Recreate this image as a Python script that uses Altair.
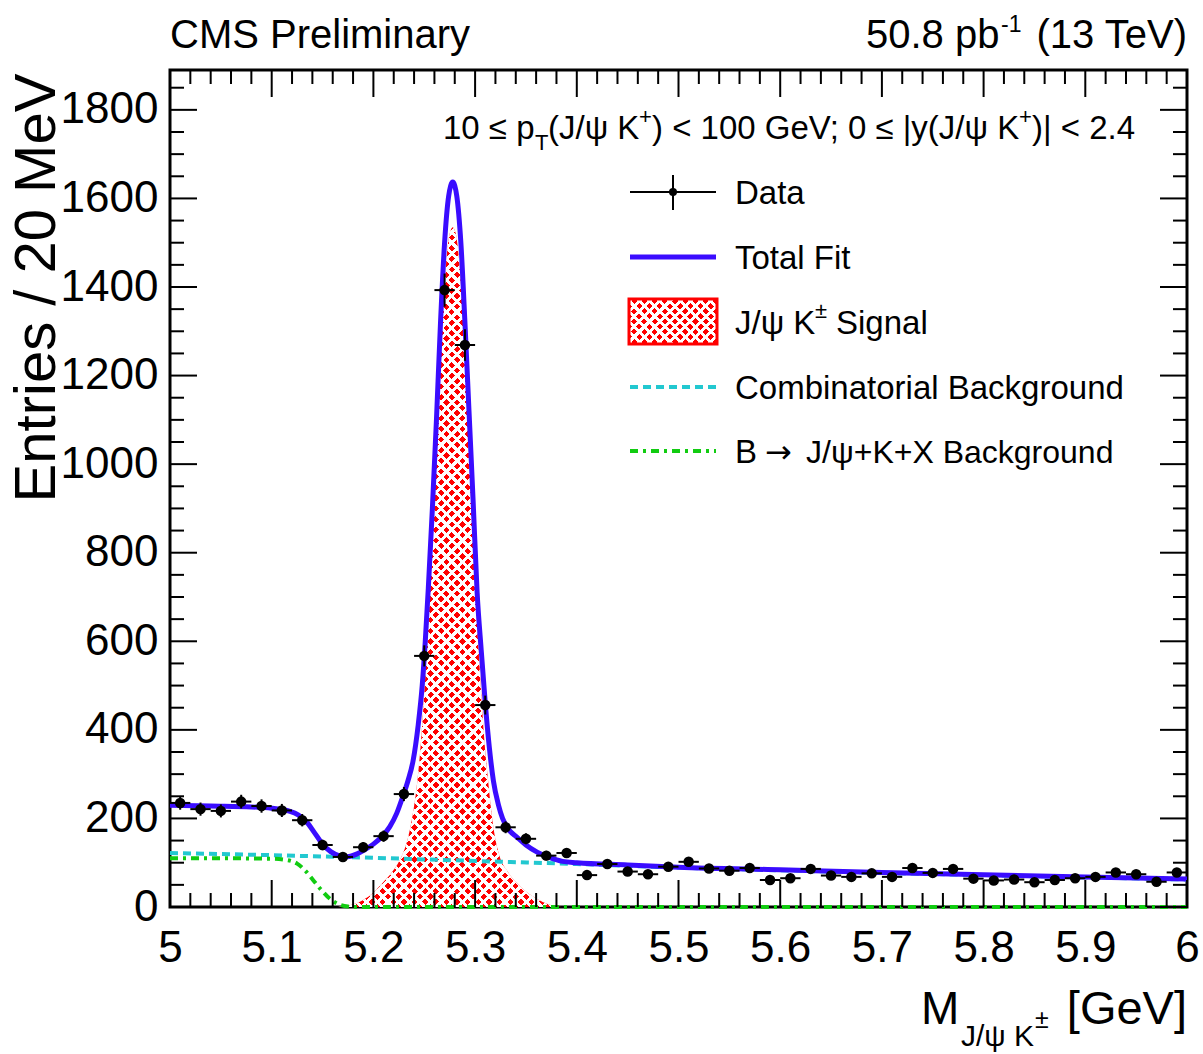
import altair as alt
import numpy as np
import pandas as pd

# ---------------- data ----------------
bin_centers = [round(5.01 + 0.02 * i, 2) for i in range(50)]
counts = [235, 221, 217, 238, 228, 218, 196, 140, 113, 135,
          160, 255, 567, 1393, 1269, 456, 180, 154, 116, 122,
          72, 97, 80, 74, 91, 102, 87, 82, 88, 61,
          65, 86, 71, 68, 76, 68, 88, 77, 86, 64,
          60, 62, 56, 61, 65, 68, 78, 74, 57, 78]

fit_mass = [5.000, 5.040, 5.080, 5.100, 5.110, 5.118, 5.126, 5.134, 5.142, 5.150,
            5.158, 5.166, 5.172, 5.184, 5.192, 5.200, 5.208, 5.216, 5.223, 5.229,
            5.234, 5.239, 5.244, 5.248, 5.251, 5.254, 5.258, 5.262, 5.266, 5.270,
            5.274, 5.278, 5.282, 5.286, 5.290, 5.294, 5.298, 5.302, 5.306, 5.310,
            5.314, 5.318, 5.323, 5.327, 5.333, 5.341, 5.350, 5.361, 5.373, 5.386,
            5.400, 5.450, 5.500, 5.600, 5.700, 5.800, 5.900, 6.000]
fit_total = [230, 228, 226, 223, 220, 216, 208, 193, 168, 142,
             125, 116, 113, 120, 130, 142, 158, 181, 212, 250,
             285, 330, 410, 500, 600, 720, 900, 1100, 1320, 1500,
             1605, 1637, 1605, 1500, 1320, 1120, 920, 710, 580, 460,
             360, 285, 230, 200, 175, 158, 140, 124, 112, 103,
             100, 95, 90, 84, 78, 73, 68, 63]

sig_mass = [5.165, 5.177, 5.190, 5.200, 5.209, 5.218, 5.226, 5.232, 5.238, 5.243,
            5.247, 5.251, 5.255, 5.259, 5.263, 5.267, 5.271, 5.275, 5.278, 5.281,
            5.285, 5.289, 5.293, 5.297, 5.301, 5.305, 5.309, 5.313, 5.318, 5.324,
            5.332, 5.341, 5.350, 5.361, 5.372, 5.385]
sig_vals = [0, 4, 16, 32, 54, 78, 106, 140, 200, 280,
            380, 520, 680, 870, 1080, 1290, 1440, 1520, 1535, 1520,
            1440, 1290, 1080, 870, 680, 520, 380, 280, 180, 115,
            80, 54, 35, 18, 6, 0]

comb_mass = [5.0, 5.1, 5.2, 5.3, 5.4, 5.5, 5.6, 5.7, 5.8, 5.9, 6.0]
comb_vals = [122, 117, 111, 104, 97, 89, 83, 77, 72, 67, 62]

bkx_mass = [5.0, 5.05, 5.10, 5.115, 5.125, 5.133, 5.141, 5.149, 5.157, 5.165, 5.175, 5.185, 6.0]
bkx_vals = [110, 110, 109, 106, 98, 82, 60, 38, 19, 7, 1, 0, 0]

x_major = [round(5 + 0.1 * i, 1) for i in range(11)]
x_minor = [round(5 + 0.02 * i, 2) for i in range(51) if i % 5]
y_major = list(range(0, 1801, 200))
y_minor = [v for v in range(0, 1851, 50) if v % 200]

# ---------------- layout / style ----------------
W, H = 1017, 837
LEFT, TOP = 170, 70
YMAX = 1890
REG = "Liberation Sans, Arial, Helvetica, sans-serif"
SYM = "DejaVu Sans, Liberation Sans, sans-serif"
BLUE = "#3a0cff"
CYAN = "#22c8d0"
GREEN = "#11cc11"
RED = "#ff0000"

xs = alt.Scale(domain=[5, 6], nice=False, zero=False)
ys = alt.Scale(domain=[0, YMAX], nice=False, zero=True)
xaxis = alt.Axis(values=x_major, format="~g", title=None, ticks=False, tickSize=0,
                 domain=False, grid=False, labelFont=REG, labelFontSize=44,
                 labelPadding=19, labelColor="black", labelOverlap=False, labelFlush=False)
yaxis = alt.Axis(values=y_major, format="d", title=None, ticks=False, tickSize=0,
                 domain=False, grid=False, labelFont=REG, labelFontSize=44,
                 labelPadding=12, labelColor="black", labelOverlap=False, labelFlush=False)


def X(f):
    return alt.X(f, type="quantitative", scale=xs, axis=xaxis)


def Y(f):
    return alt.Y(f, type="quantitative", scale=ys, axis=yaxis)


def stripes(w, h, period, frac, flip):
    k = (w + h) / (w * w + h * h)
    dx, dy = w * k, h * k
    n = max(1, int(round((w + h) / (period * np.sqrt(2)))))
    clear = "rgba(255,255,255,0)"
    stops = []
    for i in range(n):
        a = i / n
        b = (i + frac) / n
        stops += [{"offset": a, "color": clear}, {"offset": a, "color": "white"},
                  {"offset": b, "color": "white"}, {"offset": b, "color": clear}]
    stops.append({"offset": 1.0, "color": clear})
    if flip:
        return {"gradient": "linear", "x1": 0, "y1": 1, "x2": dx, "y2": 1 - dy, "stops": stops}
    return {"gradient": "linear", "x1": 0, "y1": 0, "x2": dx, "y2": dy, "stops": stops}


data_df = pd.DataFrame({"m": bin_centers, "n": counts})
data_df["err"] = np.sqrt(data_df["n"])
data_df["lo"] = data_df["m"] - 0.01
data_df["hi"] = data_df["m"] + 0.01
data_df["vlo"] = data_df["n"] - data_df["err"]
data_df["vhi"] = data_df["n"] + data_df["err"]

fit_df = pd.DataFrame({"m": fit_mass, "v": fit_total})
sig_df = pd.DataFrame({"m": sig_mass, "v": sig_vals})
comb_df = pd.DataFrame({"m": comb_mass, "v": comb_vals})
bkx_df = pd.DataFrame({"m": bkx_mass, "v": bkx_vals})
one = pd.DataFrame({"a": [0]})

sw = (max(sig_mass) - min(sig_mass)) * W
sh = max(sig_vals) / YMAX * H
PER, FR = 7.5, 0.4

layers = []
# signal area with cross-hatch
layers.append(alt.Chart(sig_df).mark_area(fill=RED, interpolate="monotone").encode(x=X("m"), y=Y("v")))
layers.append(alt.Chart(sig_df).mark_area(fill=stripes(sw, sh, PER, FR, False), interpolate="monotone")
              .encode(x=X("m"), y=Y("v")))
layers.append(alt.Chart(sig_df).mark_area(fill=stripes(sw, sh, PER, FR, True), interpolate="monotone")
              .encode(x=X("m"), y=Y("v")))
# backgrounds
layers.append(alt.Chart(comb_df).mark_line(color=CYAN, strokeWidth=4, strokeDash=[8, 5], interpolate="monotone")
              .encode(x=X("m"), y=Y("v")))
layers.append(alt.Chart(bkx_df).mark_line(color=GREEN, strokeWidth=4, strokeDash=[8, 5, 3, 5], interpolate="monotone")
              .encode(x=X("m"), y=Y("v")))
# total fit
layers.append(alt.Chart(fit_df).mark_line(color=BLUE, strokeWidth=5, interpolate="monotone")
              .encode(x=X("m"), y=Y("v")))
# data
layers.append(alt.Chart(data_df).mark_rule(color="black", strokeWidth=2)
              .encode(x=X("lo"), x2="hi", y=Y("n")))
layers.append(alt.Chart(data_df).mark_rule(color="black", strokeWidth=2)
              .encode(x=X("m"), y=Y("vlo"), y2="vhi"))
layers.append(alt.Chart(data_df).mark_circle(size=110, color="black", opacity=1)
              .encode(x=X("m"), y=Y("n")))

# inward ticks on all four sides
for vals, ln in ((x_major, 27), (x_minor, 14)):
    tdf = pd.DataFrame({"t": vals})
    layers.append(alt.Chart(tdf).mark_rule(color="black", strokeWidth=2)
                  .encode(x=X("t"), y=alt.value(H), y2=alt.value(H - ln)))
    layers.append(alt.Chart(tdf).mark_rule(color="black", strokeWidth=2)
                  .encode(x=X("t"), y=alt.value(0), y2=alt.value(ln)))
for vals, ln in ((y_major, 27), (y_minor, 14)):
    tdf = pd.DataFrame({"t": vals})
    layers.append(alt.Chart(tdf).mark_rule(color="black", strokeWidth=2)
                  .encode(y=Y("t"), x=alt.value(0), x2=alt.value(ln)))
    layers.append(alt.Chart(tdf).mark_rule(color="black", strokeWidth=2)
                  .encode(y=Y("t"), x=alt.value(W), x2=alt.value(W - ln)))


def txt(s, x, y, size, font=REG, align="left", angle=0):
    return alt.Chart(one).mark_text(text=s, font=font, fontSize=size, align=align,
                                    baseline="alphabetic", angle=angle, color="black") \
        .encode(x=alt.value(x - LEFT), y=alt.value(y - TOP))


def hline(x1, x2, y, color, width, dash=None):
    kw = dict(color=color, strokeWidth=width)
    if dash:
        kw["strokeDash"] = dash
    return alt.Chart(one).mark_rule(**kw).encode(
        x=alt.value(x1 - LEFT), x2=alt.value(x2 - LEFT), y=alt.value(y - TOP))


# legend symbols
layers.append(hline(630, 716, 192, "black", 2))
layers.append(alt.Chart(one).mark_rule(color="black", strokeWidth=2).encode(
    x=alt.value(673 - LEFT), y=alt.value(175 - TOP), y2=alt.value(210 - TOP)))
layers.append(alt.Chart(one).mark_circle(size=64, color="black", opacity=1).encode(
    x=alt.value(673 - LEFT), y=alt.value(192 - TOP)))
layers.append(hline(630, 716, 257, BLUE, 5))
box = dict(x=alt.value(629 - LEFT), x2=alt.value(717 - LEFT), y=alt.value(299 - TOP), y2=alt.value(344 - TOP))
layers.append(alt.Chart(one).mark_rect(fill=RED).encode(**box))
layers.append(alt.Chart(one).mark_rect(fill=stripes(88, 45, PER, FR, False)).encode(**box))
layers.append(alt.Chart(one).mark_rect(fill=stripes(88, 45, PER, FR, True)).encode(**box))
layers.append(alt.Chart(one).mark_rect(fillOpacity=0, stroke=RED, strokeWidth=3).encode(**box))
layers.append(hline(630, 716, 387, CYAN, 4, [8, 5]))
layers.append(hline(630, 716, 451, GREEN, 4, [8, 5, 3, 5]))

# legend text
LS = 33
layers.append(txt("Data", 735, 204, LS))
layers.append(txt("Total Fit", 735, 269, LS))
layers.append(txt("J/\u03c8 K", 735, 334, LS))
layers.append(txt("\u00b1", 815, 318, 22))
layers.append(txt("Signal", 836, 334, LS))
layers.append(txt("Combinatorial Background", 735, 399, LS))
layers.append(txt("B", 735, 463, LS))
layers.append(txt("\u2192", 765, 463, 32, SYM))
layers.append(txt("J/\u03c8+K+X Background", 806, 463, 32))

# selection annotation
AS = 33
layers.append(txt("10 \u2264 p", 443, 139, AS))
layers.append(txt("T", 535, 150, 22))
layers.append(txt("(J/\u03c8 K", 548, 139, AS))
layers.append(txt("+", 639, 124, 22))
layers.append(txt(") < 100 GeV; 0 \u2264 |y(J/\u03c8 K", 652, 139, AS))
layers.append(txt("+", 1019, 124, 22))
layers.append(txt(")| < 2.4", 1032, 139, AS))

# header
layers.append(txt("CMS Preliminary", 170, 48, 40))
layers.append(txt("50.8 pb", 866, 48, 40))
layers.append(txt("-1", 1001, 32, 23))
layers.append(txt("(13 TeV)", 1187, 48, 40, align="right"))

# axis titles
layers.append(txt("Entries / 20 MeV", 55, 288, 58, align="center", angle=270))
layers.append(txt("M", 921, 1024, 46))
layers.append(txt("J/\u03c8 K", 961, 1046, 30))
layers.append(txt("\u00b1", 1035, 1028, 25))
layers.append(txt("[GeV]", 1187, 1024, 47, align="right"))

chart = alt.layer(*layers).properties(
    width=W, height=H,
    padding={"left": LEFT, "top": TOP, "right": 1203 - LEFT - W, "bottom": 1054 - TOP - H},
    autosize=alt.AutoSizeParams(type="none"),
    background="white",
).configure_view(stroke="black", strokeWidth=3)

chart.save("out.html", embed_options={"renderer": "svg", "actions": False})
